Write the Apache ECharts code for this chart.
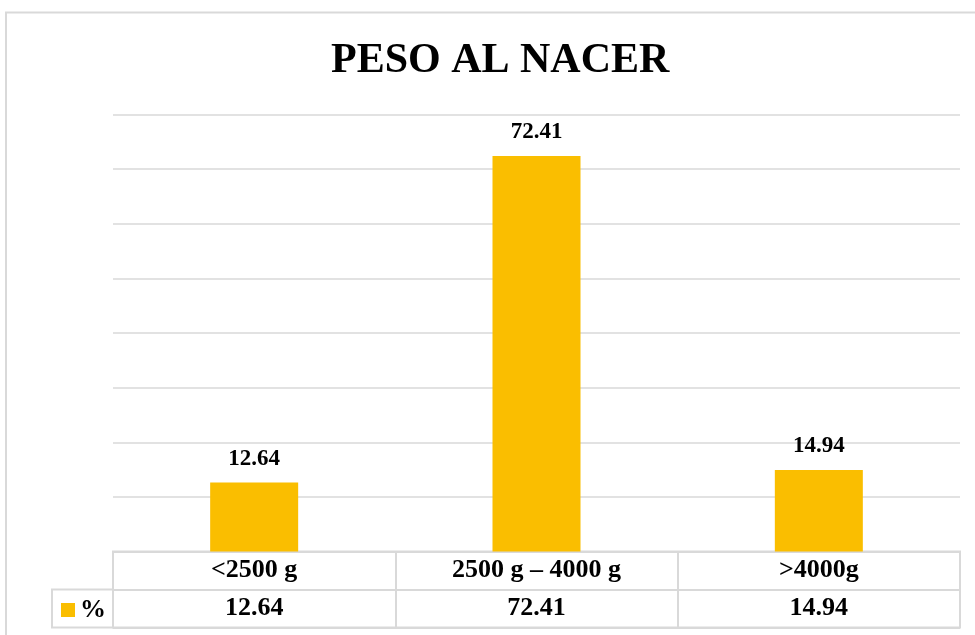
<!DOCTYPE html>
<html>
<head>
<meta charset="utf-8">
<script src="https://cdn.jsdelivr.net/npm/echarts@6/dist/echarts.min.js"></script>
<style>html,body{margin:0;padding:0;background:#fff;}#c{width:975px;height:635px;}</style>
</head>
<body>
<div id="c"></div>
<script>
var titleText = 'PESO AL NACER';
var seriesName = '%';
var categories = ['<2500 g', '2500 g \u2013 4000 g', '>4000g'];
var values = [12.64, 72.41, 14.94];
var tableRows = ['cat', 'val'];
var yMin = 0, yMax = 80, yStep = 10;

var FONT = 'Liberation Serif';
var GRIDC = '#d9d9d9';
var BAR = '#FABE00';

var chart = echarts.init(document.getElementById('c'), null, {renderer: 'canvas'});
chart.setOption({
  animation: false,
  backgroundColor: '#ffffff',
  title: {
    text: titleText,
    left: 326, top: 35,
    textStyle: {fontFamily: FONT, fontWeight: 'bold', fontSize: 42, color: '#000'}
  },
  legend: {
    data: [seriesName],
    left: 56, top: 592,
    icon: 'rect', itemWidth: 14, itemHeight: 14, itemGap: 4,
    selectedMode: false,
    textStyle: {fontFamily: FONT, fontWeight: 'bold', fontSize: 26, color: '#000'}
  },
  grid: [
    {left: 113, width: 847, top: 114.5, height: 437, containLabel: false},
    {left: 113, width: 847, top: 551.5, height: 76, show: true, borderColor: GRIDC, borderWidth: 2, containLabel: false}
  ],
  xAxis: [
    {type: 'category', gridIndex: 0, data: categories, axisLine: {show: false}, axisTick: {show: false}, axisLabel: {show: false}},
    {type: 'category', gridIndex: 1, data: categories, axisLine: {show: false}, axisTick: {show: false}, axisLabel: {show: false},
     splitLine: {show: true, lineStyle: {color: GRIDC, width: 2}}}
  ],
  yAxis: [
    {type: 'value', gridIndex: 0, min: yMin, max: yMax, interval: yStep, axisLine: {show: false}, axisTick: {show: false}, axisLabel: {show: false},
     splitLine: {show: true, lineStyle: {color: GRIDC, width: 1.5}}},
    {type: 'category', gridIndex: 1, data: tableRows, inverse: true, axisLine: {show: false}, axisTick: {show: false}, axisLabel: {show: false},
     splitLine: {show: true, lineStyle: {color: GRIDC, width: 2}}}
  ],
  graphic: [
    {type: 'rect', shape: {x: 6, y: 12.5, width: 1100, height: 800}, style: {fill: 'none', stroke: GRIDC, lineWidth: 2}, z: -10, silent: true},
    {type: 'rect', shape: {x: 52, y: 589.5, width: 61, height: 38}, style: {fill: 'none', stroke: GRIDC, lineWidth: 2}, z: 5, silent: true}
  ],
  series: [
    {
      name: seriesName, type: 'bar', xAxisIndex: 0, yAxisIndex: 0,
      data: values, barWidth: 88,
      itemStyle: {color: BAR},
      label: {show: true, position: 'top', distance: 12,
        formatter: function (p) { return p.value.toFixed(2); },
        fontFamily: FONT, fontWeight: 'bold', fontSize: 23, color: '#000'}
    },
    {
      name: 'tableCats', type: 'scatter', xAxisIndex: 1, yAxisIndex: 1,
      symbolSize: 1, itemStyle: {color: '#ffffff', opacity: 1},
      emphasis: {disabled: true},
      data: categories.map(function (c) { return [c, tableRows[0]]; }),
      label: {show: true, position: 'inside', formatter: function (p) { return p.value[0]; },
        fontFamily: FONT, fontWeight: 'bold', fontSize: 26, color: '#000000', textBorderWidth: 0, opacity: 1}
    },
    {
      name: 'tableVals', type: 'scatter', xAxisIndex: 1, yAxisIndex: 1,
      symbolSize: 1, itemStyle: {color: '#ffffff', opacity: 1},
      emphasis: {disabled: true},
      data: categories.map(function (c, i) { return [c, tableRows[1], values[i]]; }),
      label: {show: true, position: 'inside', formatter: function (p) { return p.value[2].toFixed(2); },
        fontFamily: FONT, fontWeight: 'bold', fontSize: 26, color: '#000000', textBorderWidth: 0, opacity: 1}
    }
  ]
});
</script>
</body>
</html>
